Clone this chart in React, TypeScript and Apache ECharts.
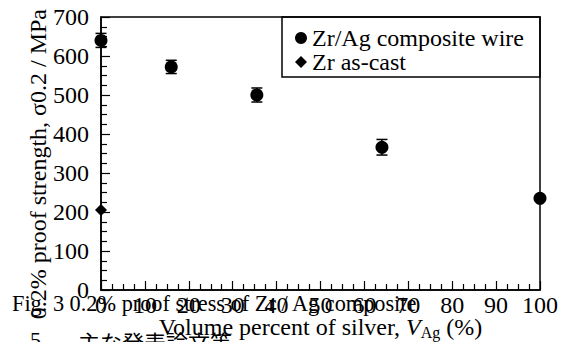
import React, { useEffect, useRef } from "react";
import * as echarts from "echarts";

// Zr/Ag composite wire: volume percent of silver vs 0.2% proof stress (MPa)
const silverPct = [0, 16, 35.5, 64, 100];
const compositeStress = [640, 572, 500, 366, 235];
const compositeErr = [18, 17, 18, 20, 0];
// Zr as-cast
const castPct = [0];
const castStress = [205];

const seriesNames = ["Zr/Ag composite wire", "Zr as-cast"];
const yTitle = "0.2% proof strength, σ0.2 / MPa";
const caption = "Fig. 3 0.2% proof stress of Zr / Ag composite";
const sectionNo = "5";
const sectionTitle = "主な発表論文等";

const SERIF = "Liberation Serif, Times New Roman, serif";

export default function App() {
  const ref = useRef<HTMLDivElement>(null);
  useEffect(() => {
    const chart = echarts.init(ref.current!, null, { renderer: "svg" });
    const errData = silverPct.map((x, i) => [x, compositeStress[i], compositeErr[i]]);
    const option: any = {
      animation: false,
      textStyle: { fontFamily: SERIF, color: "#000" },
      grid: {
        left: 101,
        right: 22,
        top: 17,
        bottom: 52,
        outerBoundsMode: "none",
        containLabel: false,
        show: true,
        borderColor: "#000",
        borderWidth: 1.5,
        backgroundColor: "transparent",
      },
      xAxis: {
        type: "value",
        min: 0,
        max: 100,
        interval: 10,
        name: "{a|Volume percent of silver, }{i|V}{s|Ag}{a| (%)}",
        nameLocation: "middle",
        nameGap: 24,
        nameMoveOverlap: false,
        nameTextStyle: {
          rich: {
            a: { fontFamily: SERIF, fontSize: 24, color: "#000", lineHeight: 26 },
            i: { fontFamily: SERIF, fontSize: 24, fontStyle: "italic", color: "#000", lineHeight: 26 },
            s: { fontFamily: SERIF, fontSize: 16, color: "#000", verticalAlign: "bottom", lineHeight: 18 },
          },
        },
        axisLine: { show: true, lineStyle: { color: "#000", width: 1.5 } },
        axisTick: { show: true, inside: true, length: 9, lineStyle: { color: "#000", width: 1.2 } },
        minorTick: { show: true, splitNumber: 4, length: 6, lineStyle: { color: "#000", width: 1.2 } },
        axisLabel: { fontFamily: SERIF, fontSize: 24, color: "#000", margin: 3 },
        splitLine: { show: false },
        minorSplitLine: { show: false },
      },
      yAxis: {
        type: "value",
        min: 0,
        max: 700,
        interval: 100,
        axisLine: { show: true, lineStyle: { color: "#000", width: 1.5 } },
        axisTick: { show: true, inside: true, length: 9, lineStyle: { color: "#000", width: 1.2 } },
        minorTick: { show: true, splitNumber: 4, length: 6, lineStyle: { color: "#000", width: 1.2 } },
        axisLabel: { fontFamily: SERIF, fontSize: 24, color: "#000", margin: 12 },
        splitLine: { show: false },
        minorSplitLine: { show: false },
      },
      legend: {
        orient: "vertical",
        left: 295,
        top: 26,
        padding: 0,
        itemGap: 0,
        itemWidth: 12,
        itemHeight: 12,
        itemStyle: { color: "#000", opacity: 1 },
        textStyle: { fontFamily: SERIF, fontSize: 24, color: "#000", lineHeight: 24 },
        data: seriesNames,
      },
      graphic: [
        {
          type: "rect",
          shape: { x: 282, y: 17, width: 258, height: 60 },
          style: { fill: "none", stroke: "#000", lineWidth: 1.5 },
          z: 10,
        },
        {
          type: "text",
          left: 26,
          top: 9,
          rotation: Math.PI / 2,
          style: {
            text: yTitle,
            fontFamily: SERIF,
            fontSize: 24,
            fill: "#000",
          },
        },
        {
          type: "text",
          x: 12,
          y: 303,
          style: {
            text: caption,
            fontFamily: SERIF,
            fontSize: 22.3,
            fill: "#000",
            align: "left",
            verticalAlign: "middle",
          },
        },
        {
          type: "text",
          x: 30,
          y: 328,
          style: {
            text: sectionNo,
            fontFamily: SERIF,
            fontSize: 22,
            fill: "#000",
            align: "left",
            verticalAlign: "top",
          },
        },
        {
          type: "text",
          x: 78,
          y: 330,
          style: {
            text: sectionTitle,
            fontFamily: "Noto Sans CJK JP",
            fontSize: 22,
            fill: "#000",
            align: "left",
            verticalAlign: "top",
          },
        },
      ],
      series: [
        {
          type: "custom",
          name: "errorbars",
          clip: false,
          z: 3,
          data: errData,
          renderItem: (params: any, api: any) => {
            const x = api.value(0);
            const y = api.value(1);
            const e = api.value(2);
            if (!e) return { type: "group", children: [] };
            const top = api.coord([x, y + e]);
            const bot = api.coord([x, y - e]);
            const w = 5.5;
            const st = { stroke: "#000", lineWidth: 1.5 };
            return {
              type: "group",
              children: [
                { type: "line", shape: { x1: top[0], y1: top[1], x2: bot[0], y2: bot[1] }, style: st },
                { type: "line", shape: { x1: top[0] - w, y1: top[1], x2: top[0] + w, y2: top[1] }, style: st },
                { type: "line", shape: { x1: bot[0] - w, y1: bot[1], x2: bot[0] + w, y2: bot[1] }, style: st },
              ],
            };
          },
        },
        {
          type: "scatter",
          name: seriesNames[0],
          symbol: "circle",
          symbolSize: 13,
          clip: false,
          z: 4,
          itemStyle: { color: "#000", opacity: 1 },
          data: silverPct.map((x, i) => [x, compositeStress[i]]),
        },
        {
          type: "scatter",
          name: seriesNames[1],
          symbol: "diamond",
          symbolSize: 12,
          clip: false,
          z: 4,
          itemStyle: { color: "#000", opacity: 1 },
          data: castPct.map((x, i) => [x, castStress[i]]),
        },
      ],
    };
    chart.setOption(option);
    return () => chart.dispose();
  }, []);
  return (
    <div
      ref={ref}
      style={{ position: "absolute", left: 0, top: 0, width: 562, height: 342 }}
    />
  );
}
